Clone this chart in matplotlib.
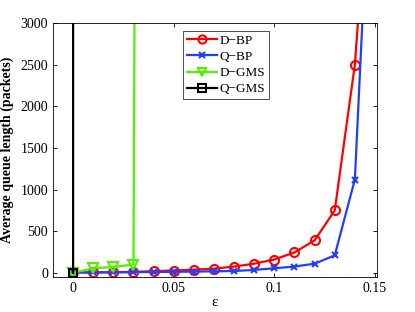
import matplotlib
matplotlib.use("Agg")
import matplotlib.pyplot as plt

eps = [0.0, 0.01, 0.02, 0.03, 0.04, 0.05, 0.06, 0.07, 0.08, 0.09, 0.10, 0.11, 0.12, 0.13, 0.14, 0.15]
d_bp = [5, 5, 8, 12, 20, 28, 38, 50, 75, 110, 160, 245, 390, 750, 2500, 5800]
q_bp = [5, 5, 6, 8, 10, 12, 15, 18, 22, 35, 55, 75, 110, 210, 1120, 6200]
eps_dgms = [0.0, 0.01, 0.02, 0.03, 0.04]
d_gms = [0, 55, 70, 100, 60000]
eps_qgms = [0.0, 0.01]
q_gms = [0, 1e7]

xticks = [0, 0.05, 0.1, 0.15]
xticklabels = ["0", "0.05", "0.1", "0.15"]
yticks = [0, 500, 1000, 1500, 2000, 2500, 3000]

plt.rcParams['font.family'] = ['Liberation Serif', 'DejaVu Serif']

fig = plt.figure(figsize=(4.15, 3.12), dpi=100)
ax = fig.add_axes([53/415, 1-277/312, 324/415, 254/312])

ax.plot(eps, d_bp, color='#ff0000', lw=1.6, marker='o', ms=6.5, mfc='none', mew=1.5, label='D\u2212BP')
ax.plot(eps, q_bp, color='#1f3fff', lw=1.6, marker='x', ms=4.5, mew=1.5, label='Q\u2212BP')
ax.plot(eps_dgms, d_gms, color='#55ee00', lw=1.6, marker='v', ms=6.5, mfc='none', mew=1.5, label='D\u2212GMS')
ax.plot(eps_qgms, q_gms, color='black', lw=1.6, marker='s', ms=6, mfc='none', mew=1.5, label='Q\u2212GMS')

ax.set_xlim(-0.01, 0.151)
ax.set_ylim(-50, 3000)
ax.set_xticks(xticks)
ax.set_xticklabels(xticklabels)
ax.set_yticks(yticks)
ax.tick_params(direction='in', top=True, right=True, labelsize=10, length=3, width=0.6)
for s in ax.spines.values():
    s.set_linewidth(0.6)
ax.set_xlabel('ε', fontsize=11, labelpad=1)
ax.set_ylabel('Average queue length (packets)', fontsize=10, fontweight='bold', labelpad=5)

leg = ax.legend(loc='upper left', bbox_to_anchor=(0.40, 0.97), fontsize=9.5, frameon=True,
                fancybox=False, edgecolor='black', handlelength=2.3, borderpad=0.3,
                labelspacing=0.3, handletextpad=0.2, borderaxespad=0, markerscale=0.9)
leg.get_frame().set_linewidth(0.6)

fig.savefig('out.png', dpi=100)
